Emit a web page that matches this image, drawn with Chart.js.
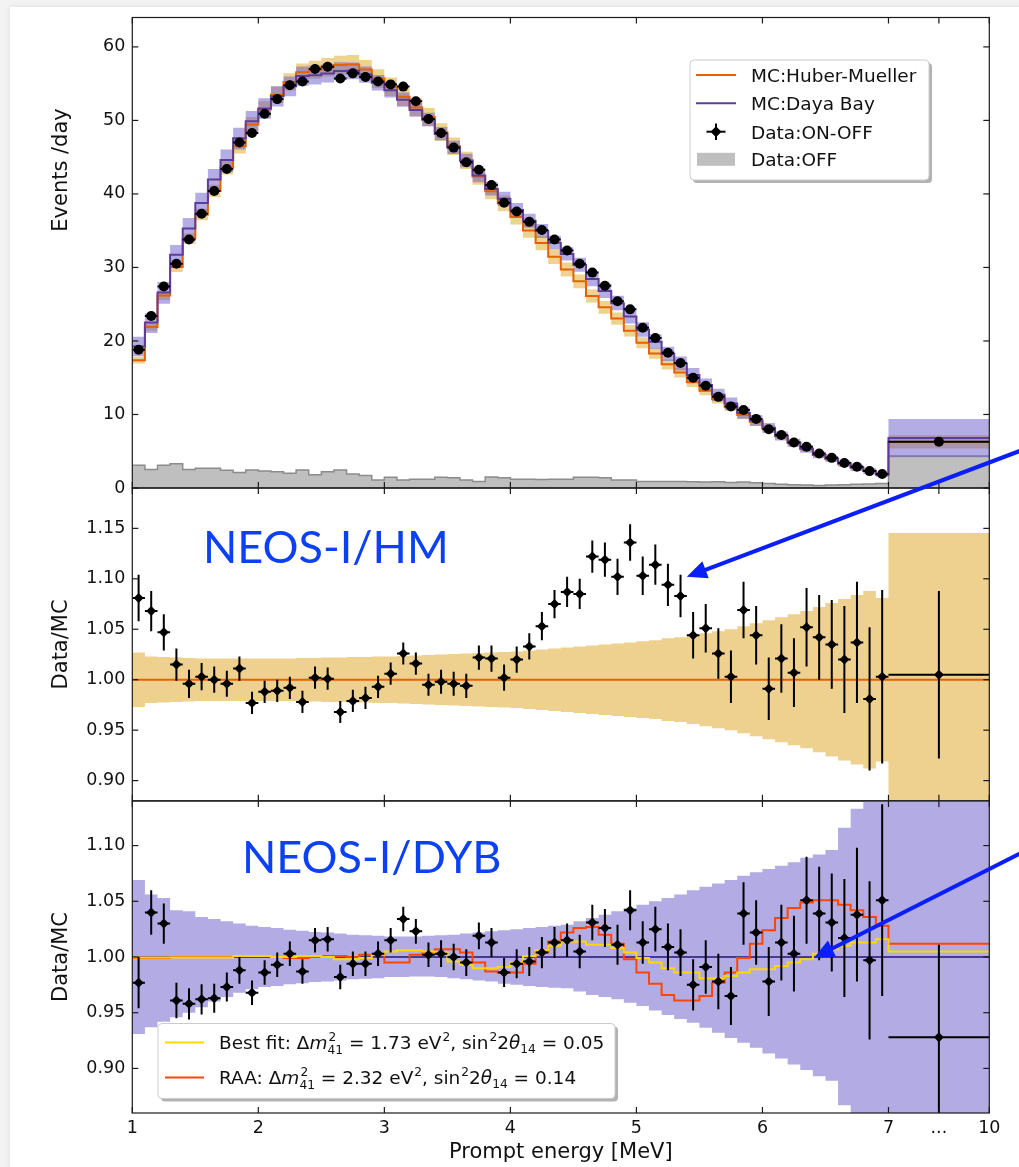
<!DOCTYPE html>
<html>
<head>
<meta charset="utf-8">
<script src="https://cdn.jsdelivr.net/npm/chart.js@4.4.1/dist/chart.umd.min.js"></script>
<style>
  body { margin: 0; width: 1019px; height: 1167px; overflow: hidden; position: relative; background: #f3f3f3; }
  #card { position: absolute; left: 10px; top: 7px; right: -20px; bottom: -20px; background: #fff; box-shadow: 0 0 5px rgba(0,0,0,0.10); }
  canvas { position: absolute; left: 0; }
</style>
</head>
<body>
<div id="card"></div>
<canvas id="spec" width="1019" height="506" style="top:0px"></canvas>
<canvas id="ratioHM" width="1019" height="379" style="top:440px"></canvas>
<canvas id="ratioDYB" width="1019" height="384" style="top:783px"></canvas>
<script>
// 0.1 MeV bins from 1 to 7 MeV, plus one 7-10 MeV overflow bin (last entry of every array)
const binCenters = [
  1.05, 1.15, 1.25, 1.35, 1.45, 1.55, 1.65, 1.75, 1.85, 1.95,
  2.05, 2.15, 2.25, 2.35, 2.45, 2.55, 2.65, 2.75, 2.85, 2.95,
  3.05, 3.15, 3.25, 3.35, 3.45, 3.55, 3.65, 3.75, 3.85, 3.95,
  4.05, 4.15, 4.25, 4.35, 4.45, 4.55, 4.65, 4.75, 4.85, 4.95,
  5.05, 5.15, 5.25, 5.35, 5.45, 5.55, 5.65, 5.75, 5.85, 5.95,
  6.05, 6.15, 6.25, 6.35, 6.45, 6.55, 6.65, 6.75, 6.85, 6.95
];

// Data:ON-OFF, events/day
const onOff = [
  18.8, 23.4, 27.4, 30.5, 33.8, 37.3, 40.4, 43.4, 47.0, 48.3,
  50.9, 52.9, 54.8, 55.3, 57.0, 57.3, 55.7, 56.4, 55.9, 55.3,
  54.9, 54.6, 52.6, 50.2, 48.3, 46.3, 44.3, 43.3, 41.2, 38.8,
  37.6, 36.2, 35.1, 33.8, 32.3, 30.5, 29.3, 27.5, 25.4, 24.3,
  21.8, 20.4, 18.4, 17.0, 15.0, 13.9, 12.4, 11.1, 10.6, 9.4,
  8.0, 7.2, 6.2, 5.6, 4.7, 4.1, 3.4, 2.9, 2.3, 1.9,
  6.3
];

// Data:OFF, events/day
const offData = [
  3.1, 2.5, 3.1, 3.3, 2.5, 2.7, 2.7, 2.4, 2.1, 2.45,
  2.3, 2.2, 2.0, 2.45, 1.8, 2.2, 2.45, 1.9, 1.7, 1.1,
  1.45, 1.1, 1.2, 1.2, 1.45, 1.4, 1.1, 0.9, 1.5, 1.4,
  1.2, 1.2, 1.15, 1.2, 1.2, 1.45, 1.45, 1.4, 1.1, 1.1,
  0.9, 0.9, 0.9, 0.9, 0.85, 0.8, 0.85, 0.75, 0.8, 0.7,
  0.6, 0.5, 0.45, 0.4, 0.35, 0.4, 0.45, 0.5, 0.55, 0.6,
  4.35
];

// Data / MC(Huber-Mueller)
const hmRatio = [
  1.081, 1.068, 1.047, 1.015, 0.996, 1.003, 1.000, 0.996, 1.011, 0.977,
  0.988, 0.989, 0.992, 0.978, 1.002, 1.001, 0.968, 0.979, 0.982, 0.993,
  1.006, 1.026, 1.016, 0.995, 0.998, 0.996, 0.994, 1.022, 1.021, 1.002,
  1.020, 1.033, 1.053, 1.075, 1.087, 1.085, 1.122, 1.119, 1.102, 1.136,
  1.103, 1.114, 1.094, 1.083, 1.044, 1.051, 1.026, 1.003, 1.069, 1.044,
  0.991, 1.021, 1.007, 1.052, 1.042, 1.035, 1.020, 1.037, 0.981, 1.003,
  1.005
];

// Data / MC(Daya Bay)
const dybRatio = [
  0.977, 1.040, 1.030, 0.961, 0.958, 0.962, 0.963, 0.973, 0.988, 0.968,
  0.986, 0.993, 1.003, 0.987, 1.015, 1.016, 0.982, 0.994, 0.994, 1.003,
  1.015, 1.034, 1.023, 1.002, 1.003, 1.000, 0.995, 1.019, 1.013, 0.986,
  0.994, 0.996, 1.004, 1.013, 1.015, 1.005, 1.031, 1.026, 1.011, 1.042,
  1.013, 1.025, 1.009, 1.004, 0.975, 0.991, 0.978, 0.965, 1.039, 1.022,
  0.978, 1.013, 1.003, 1.051, 1.039, 1.031, 1.017, 1.038, 0.997, 1.051,
  0.928
];

// statistical error of the data, relative
const ratioErr = [
  0.023, 0.020, 0.018, 0.016, 0.014, 0.0135, 0.013, 0.013, 0.012, 0.011,
  0.011, 0.011, 0.011, 0.011, 0.011, 0.011, 0.011, 0.011, 0.011, 0.011,
  0.011, 0.011, 0.011, 0.011, 0.012, 0.012, 0.012, 0.012, 0.013, 0.013,
  0.013, 0.013, 0.014, 0.014, 0.015, 0.015, 0.016, 0.017, 0.018, 0.018,
  0.019, 0.020, 0.021, 0.021, 0.023, 0.024, 0.025, 0.026, 0.028, 0.029,
  0.031, 0.034, 0.034, 0.039, 0.042, 0.044, 0.053, 0.060, 0.071, 0.086,
  0.083
];

// MC systematic bands, relative half widths
const hmBand = [
  0.027, 0.023, 0.0225, 0.022, 0.0215, 0.021, 0.021, 0.021, 0.021, 0.021,
  0.021, 0.021, 0.021, 0.0215, 0.0215, 0.022, 0.022, 0.0225, 0.0225, 0.023,
  0.023, 0.0235, 0.024, 0.0245, 0.025, 0.0255, 0.026, 0.0265, 0.027, 0.0275,
  0.028, 0.029, 0.030, 0.031, 0.032, 0.033, 0.034, 0.035, 0.036, 0.037,
  0.038, 0.039, 0.041, 0.042, 0.044, 0.046, 0.048, 0.050, 0.053, 0.056,
  0.059, 0.062, 0.065, 0.068, 0.072, 0.076, 0.080, 0.084, 0.088, 0.081,
  0.1455
];
const dybBandHi = [
  0.069, 0.056, 0.053, 0.042, 0.041, 0.036, 0.034, 0.032, 0.030, 0.028,
  0.027, 0.026, 0.0245, 0.0235, 0.0225, 0.022, 0.021, 0.020, 0.0195, 0.019,
  0.0185, 0.0185, 0.0185, 0.019, 0.0195, 0.020, 0.021, 0.022, 0.023, 0.024,
  0.025, 0.026, 0.027, 0.028, 0.029, 0.032, 0.035, 0.038, 0.041, 0.044,
  0.047, 0.050, 0.053, 0.056, 0.060, 0.063, 0.066, 0.069, 0.073, 0.076,
  0.079, 0.082, 0.085, 0.089, 0.092, 0.096, 0.116, 0.133, 0.17, 0.17,
  0.385
];
const dybBandLo = [
  0.069, 0.063, 0.058, 0.054, 0.050, 0.045, 0.040, 0.036, 0.032, 0.029,
  0.027, 0.026, 0.0245, 0.0235, 0.0225, 0.022, 0.021, 0.020, 0.0195, 0.019,
  0.018, 0.018, 0.0175, 0.0175, 0.018, 0.019, 0.020, 0.021, 0.022, 0.024,
  0.025, 0.026, 0.027, 0.0275, 0.028, 0.031, 0.034, 0.036, 0.038, 0.041,
  0.044, 0.048, 0.052, 0.0556, 0.059, 0.0636, 0.068, 0.0726, 0.077, 0.0815,
  0.0866, 0.091, 0.0965, 0.1015, 0.107, 0.111, 0.133, 0.17, 0.17, 0.17,
  0.385
];

// oscillation predictions relative to Daya Bay MC
const bestFit = [
  0.9995, 0.9995, 0.9995, 0.9995, 0.9995, 0.9995, 0.9995, 0.9995, 1.001, 1.001,
  1.001, 1.000, 1.000, 1.001, 1.001, 1.000, 0.998, 0.998, 0.999, 1.002,
  1.005, 1.006, 1.006, 1.005, 1.004, 0.996, 0.993, 0.990, 0.990, 0.991,
  0.995, 1.001, 1.006, 1.010, 1.014, 1.014, 1.011, 1.011, 1.008, 1.004,
  0.999, 0.995, 0.990, 0.986, 0.986, 0.981, 0.981, 0.983, 0.986, 0.989,
  0.989, 0.992, 0.995, 0.998, 1.003, 1.007, 1.010, 1.013, 1.013, 1.016,
  1.005
];
const raa = [
  0.999, 0.999, 0.999, 1.000, 1.000, 1.000, 1.000, 1.000, 1.001, 1.001,
  1.001, 1.000, 0.999, 0.999, 1.000, 1.001, 1.001, 1.000, 1.002, 1.002,
  0.995, 0.995, 1.002, 1.004, 1.007, 1.007, 1.004, 0.995, 0.987, 0.986,
  0.986, 0.994, 1.004, 1.014, 1.022, 1.026, 1.027, 1.020, 1.012, 0.998,
  0.986, 0.976, 0.966, 0.961, 0.961, 0.965, 0.977, 0.986, 0.999, 1.012,
  1.024, 1.035, 1.044, 1.049, 1.051, 1.051, 1.047, 1.042, 1.036, 1.028,
  1.012
];

// x axis: 1-7 MeV linear, then 7-10 MeV squeezed into 7.0-7.8
const xTicks = [1, 2, 3, 4, 5, 6, 7, 7.4, 7.8];
const xTickLabels = ['1', '2', '3', '4', '5', '6', '7', '...', '10'];
const overflowLo = 7.0, overflowMid = 7.4, overflowHi = 7.8;
const binHalf = 0.05;
const specTicks = [0, 10, 20, 30, 40, 50, 60];
const hmTicks = [0.90, 0.95, 1.00, 1.05, 1.10, 1.15];
const dybTicks = [0.90, 0.95, 1.00, 1.05, 1.10];

const FONT = "'DejaVu Sans'";
const INK = '#111';
const COL = {
  hm: '#e66101', dyb: '#5e3c99',
  hmBand: '#eed18f', dybBand: '#b3ace4',
  hmBandA: 'rgba(222,165,32,0.5)', dybBandA: 'rgba(105,90,201,0.5)',
  off: '#bfbfbf', offLine: '#8c8c8c',
  fit: '#ffd700', raa: '#ff4500', blue: '#0b40f5', arrow: '#0a1eff'
};

function stepPts(vals) {
  const pts = vals.map((v, i) => ({ x: i < binCenters.length ? binCenters[i] - binHalf : overflowLo, y: v }));
  pts.push({ x: overflowHi, y: vals[vals.length - 1] });
  return pts;
}
function markPts(vals) {
  return vals.map((v, i) => ({ x: i < binCenters.length ? binCenters[i] : overflowMid, y: v }));
}
const xHalf = onOff.map((v, i) => i < binCenters.length ? binHalf : overflowHi - overflowMid);

const hmMC = onOff.map((d, i) => d / hmRatio[i]);
const dybMC = onOff.map((d, i) => d / dybRatio[i]);

function stepLine(vals, color, width, order) {
  return { data: stepPts(vals), borderColor: color, borderWidth: width, stepped: true, pointRadius: 0, fill: false, order: order };
}
function bandEdge(vals, color, order) {
  return { data: stepPts(vals), borderColor: 'transparent', borderWidth: 0, backgroundColor: color || 'transparent',
           fill: color ? '+1' : false, stepped: true, pointRadius: 0, order: order };
}
function marks(vals, errs, style) {
  return { data: markPts(vals), showLine: false, pointStyle: style, pointRadius: 5, pointBackgroundColor: '#000',
           pointBorderWidth: 0, errY: errs, errX: xHalf, order: 0 };
}

function line(ctx, x0, y0, x1, y1) { ctx.beginPath(); ctx.moveTo(x0, y0); ctx.lineTo(x1, y1); ctx.stroke(); }

function diamond(ctx, x, y, r) {
  ctx.beginPath(); ctx.moveTo(x, y - r); ctx.lineTo(x + r, y); ctx.lineTo(x, y + r); ctx.lineTo(x - r, y); ctx.closePath(); ctx.fill();
}

function legendFrame(ctx, x, y, w, h) {
  ctx.fillStyle = 'rgba(0,0,0,0.3)';
  ctx.beginPath(); ctx.roundRect(x + 3, y + 3, w, h, 4); ctx.fill();
  ctx.fillStyle = '#fff'; ctx.strokeStyle = '#cccccc'; ctx.lineWidth = 1;
  ctx.beginPath(); ctx.roundRect(x, y, w, h, 4); ctx.fill(); ctx.stroke();
}

// text with mathtext-like super/subscripts
function drawRich(ctx, parts, x, y, size) {
  const small = size * 0.66;
  parts.forEach(([t, kind, t2]) => {
    if (kind === 'n' || kind === 'i') {
      ctx.font = (kind === 'i' ? 'italic ' : '') + size + 'px ' + FONT;
      ctx.fillText(t, x, y);
      x += ctx.measureText(t).width;
    } else {
      ctx.font = small + 'px ' + FONT;
      if (kind === '^') {
        ctx.fillText(t, x + 1, y - 0.42 * size);
        x += ctx.measureText(t).width + 1;
      } else if (kind === '_') {
        ctx.fillText(t, x, y + 0.25 * size);
        x += ctx.measureText(t).width;
      } else {
        ctx.fillText(t, x + 1, y - 0.42 * size);
        ctx.fillText(t2, x, y + 0.28 * size);
        x += Math.max(ctx.measureText(t).width + 1, ctx.measureText(t2).width);
      }
    }
  });
}

function drawArrow(ctx, x0, y0, x1, y1) {
  const a = Math.atan2(y1 - y0, x1 - x0), hl = 20, hw = 9;
  const bx = x1 - hl * Math.cos(a), by = y1 - hl * Math.sin(a);
  ctx.strokeStyle = COL.arrow; ctx.fillStyle = COL.arrow; ctx.lineWidth = 4;
  line(ctx, x0, y0, bx + 3 * Math.cos(a), by + 3 * Math.sin(a));
  ctx.beginPath();
  ctx.moveTo(x1, y1);
  ctx.lineTo(bx + hw * Math.sin(a), by - hw * Math.cos(a));
  ctx.lineTo(bx - hw * Math.sin(a), by + hw * Math.cos(a));
  ctx.closePath(); ctx.fill();
}

function decor(cfg) {
  return {
    id: 'decor',
    beforeDatasetDraw(chart, args) {
      const ds = chart.data.datasets[args.index];
      if (!ds.errY) return;
      const { ctx, chartArea: a, scales: { x, y } } = chart;
      ctx.save();
      ctx.beginPath(); ctx.rect(a.left, a.top, a.right - a.left, a.bottom - a.top); ctx.clip();
      ctx.strokeStyle = '#000'; ctx.lineWidth = 2;
      ds.data.forEach((p, i) => {
        const px = x.getPixelForValue(p.x), py = y.getPixelForValue(p.y);
        line(ctx, px, y.getPixelForValue(p.y - ds.errY[i]), px, y.getPixelForValue(p.y + ds.errY[i]));
        line(ctx, x.getPixelForValue(p.x - ds.errX[i]), py, x.getPixelForValue(p.x + ds.errX[i]), py);
      });
      ctx.restore();
    },
    afterDraw(chart) {
      const { ctx, chartArea: a, scales: { x, y } } = chart;
      ctx.save();
      // frame and inward ticks
      ctx.strokeStyle = '#1a1a1a'; ctx.lineWidth = 1.2;
      ctx.strokeRect(a.left, a.top, a.right - a.left, a.bottom - a.top);
      const tl = 6;
      xTicks.forEach(v => {
        const px = x.getPixelForValue(v);
        line(ctx, px, a.bottom, px, a.bottom - tl);
        line(ctx, px, a.top, px, a.top + tl);
      });
      y.ticks.forEach(t => {
        const py = y.getPixelForValue(t.value);
        line(ctx, a.left, py, a.left + tl, py);
        line(ctx, a.right, py, a.right - tl, py);
      });
      // y title
      ctx.fillStyle = INK;
      ctx.font = '21px ' + FONT;
      ctx.textAlign = 'center'; ctx.textBaseline = 'middle';
      ctx.save();
      ctx.translate(62, cfg.titleOffset != null ? a.top + cfg.titleOffset : (a.top + a.bottom) / 2);
      ctx.rotate(-Math.PI / 2);
      ctx.fillText(cfg.yTitle, 0, 0);
      ctx.restore();
      // panel label
      if (cfg.label) {
        ctx.fillStyle = COL.blue; ctx.font = '45px Lato';
        ctx.textAlign = 'left'; ctx.textBaseline = 'alphabetic';
        ctx.fillText(cfg.label.text, x.getPixelForValue(cfg.label.x), y.getPixelForValue(cfg.label.y));
      }
      // legends
      ctx.textAlign = 'left'; ctx.textBaseline = 'alphabetic';
      if (cfg.legend === 'spectrum') {
        const bx = a.right - 299.3, by = a.top + 42.5;
        legendFrame(ctx, bx, by, 239, 120);
        const rows = [15, 43.3, 71.7, 99.3];
        ctx.lineWidth = 2;
        ctx.strokeStyle = COL.hm; line(ctx, bx + 6, by + rows[0], bx + 46, by + rows[0]);
        ctx.strokeStyle = COL.dyb; line(ctx, bx + 6, by + rows[1], bx + 46, by + rows[1]);
        ctx.strokeStyle = '#000'; ctx.fillStyle = '#000';
        line(ctx, bx + 16.5, by + rows[2], bx + 35.5, by + rows[2]);
        line(ctx, bx + 26, by + rows[2] - 8.3, bx + 26, by + rows[2] + 8.3);
        diamond(ctx, bx + 26, by + rows[2], 5.5);
        ctx.fillStyle = COL.off; ctx.fillRect(bx + 7, by + rows[3] - 6.5, 38, 13);
        ctx.fillStyle = INK; ctx.font = '18.5px ' + FONT;
        ['MC:Huber-Mueller', 'MC:Daya Bay', 'Data:ON-OFF', 'Data:OFF'].forEach((t, i) => {
          ctx.fillText(t, bx + 61, by + rows[i] + 7);
        });
      }
      if (cfg.legend === 'fit') {
        const bx = a.left + 25.7, by = a.bottom - 89.5;
        legendFrame(ctx, bx, by, 457, 75);
        ctx.lineWidth = 2;
        ctx.strokeStyle = COL.fit; line(ctx, bx + 7, by + 19, bx + 46, by + 19);
        ctx.strokeStyle = COL.raa; line(ctx, bx + 7, by + 54, bx + 46, by + 54);
        ctx.fillStyle = INK;
        drawRich(ctx, [['Best fit: ', 'n'], ['\u0394', 'n'], ['m', 'i'], ['2', '^_', '41'], [' = 1.73 eV', 'n'], ['2', '^'],
                       [', sin', 'n'], ['2', '^'], ['2', 'n'], ['\u03b8', 'i'], ['14', '_'], [' = 0.05', 'n']], bx + 61, by + 25, 18.5);
        drawRich(ctx, [['RAA: ', 'n'], ['\u0394', 'n'], ['m', 'i'], ['2', '^_', '41'], [' = 2.32 eV', 'n'], ['2', '^'],
                       [', sin', 'n'], ['2', '^'], ['2', 'n'], ['\u03b8', 'i'], ['14', '_'], [' = 0.14', 'n']], bx + 61, by + 60, 18.5);
      }
      if (cfg.arrow) {
        const [f, t] = cfg.arrow;
        drawArrow(ctx, x.getPixelForValue(f[0]), y.getPixelForValue(f[1]), x.getPixelForValue(t[0]), y.getPixelForValue(t[1]));
      }
      ctx.restore();
    }
  };
}

function makeChart(id, datasets, yMin, yMax, yTicks, yDigits, showX, padding, cfg) {
  return new Chart(document.getElementById(id), {
    type: 'line',
    data: { datasets: datasets },
    options: {
      responsive: false,
      animation: false,
      events: [],
      layout: { padding: padding },
      plugins: { legend: { display: false }, tooltip: { enabled: false } },
      scales: {
        x: {
          type: 'linear', min: 1, max: overflowHi, display: showX,
          afterBuildTicks: s => { s.ticks = xTicks.map(v => ({ value: v })); },
          afterFit: s => { if (showX) s.height = 54; },
          grid: { display: false, drawTicks: false },
          border: { display: false },
          ticks: { autoSkip: false, maxRotation: 0, padding: 5, color: INK, font: { family: FONT, size: 17.5 },
                   callback: (v, i) => xTickLabels[i] },
          title: { display: true, text: 'Prompt energy [MeV]', color: INK, font: { family: FONT, size: 21 },
                   padding: { top: 0, bottom: 2 } }
        },
        y: {
          min: yMin, max: yMax,
          afterBuildTicks: s => { s.ticks = yTicks.map(v => ({ value: v })); },
          afterFit: s => { s.width = 132.3; },
          grid: { display: false, drawTicks: false },
          border: { display: false },
          ticks: { padding: 7, color: INK, font: { family: FONT, size: 17.5 }, callback: v => v.toFixed(yDigits) }
        }
      }
    },
    plugins: [decor(cfg)]
  });
}

// top panel: spectra
makeChart('spec', [
  marks(onOff, onOff.map((d, i) => d * ratioErr[i]), 'circle'),
  stepLine(dybMC, COL.dyb, 2, 1),
  stepLine(hmMC, COL.hm, 2, 2),
  bandEdge(dybMC.map((m, i) => m * (1 + dybBandHi[i])), COL.dybBandA, 3),
  bandEdge(dybMC.map((m, i) => m * (1 - dybBandLo[i])), null, 4),
  bandEdge(hmMC.map((m, i) => m * (1 + hmBand[i])), COL.hmBandA, 5),
  bandEdge(hmMC.map((m, i) => m * (1 - hmBand[i])), null, 6),
  { data: stepPts(offData), borderColor: COL.offLine, borderWidth: 1.5, backgroundColor: COL.off, fill: 'origin',
    stepped: true, pointRadius: 0, order: 7 }
], 0, 64, specTicks, 0, false, { top: 17.5, right: 29.7, bottom: 18, left: 0 },
  { yTitle: 'Events /day', titleOffset: 152.5, legend: 'spectrum' });

// middle panel: data / Huber-Mueller
makeChart('ratioHM', [
  marks(hmRatio, ratioErr, 'rectRot'),
  stepLine(hmRatio.map(() => 1), COL.hm, 2, 1),
  bandEdge(hmBand.map(b => 1 + b), COL.hmBand, 2),
  bandEdge(hmBand.map(b => 1 - b), null, 3)
], 0.88, 1.19, hmTicks, 2, false, { top: 48, right: 29.7, bottom: 18.2, left: 0 },
  { yTitle: 'Data/MC', label: { text: 'NEOS-I/HM', x: 1.56, y: 1.1157 }, arrow: [[8.19, 1.2337], [5.40, 1.102]] });

// bottom panel: data / Daya Bay
makeChart('ratioDYB', [
  marks(dybRatio, ratioErr, 'rectRot'),
  stepLine(bestFit, COL.fit, 2, 1),
  stepLine(raa, COL.raa, 2, 2),
  stepLine(dybRatio.map(() => 1), '#4a3a8f', 1.8, 3),
  bandEdge(dybBandHi.map(b => 1 + b), COL.dybBand, 4),
  bandEdge(dybBandLo.map(b => 1 - b), null, 5)
], 0.86, 1.14, dybTicks, 2, true, { top: 18, right: 29.7, bottom: 0, left: 0 },
  { yTitle: 'Data/MC', legend: 'fit', label: { text: 'NEOS-I/DYB', x: 1.87, y: 1.0753 }, arrow: [[8.19, 1.1012], [6.41, 0.9994]] });
</script>
</body>
</html>
